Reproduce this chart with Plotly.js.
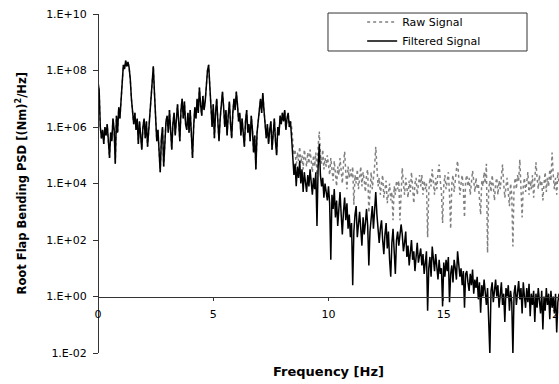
<!DOCTYPE html>
<html><head><meta charset="utf-8">
<script src="https://cdn.plot.ly/plotly-3.0.1.min.js"></script>
<style>html,body{margin:0;padding:0;background:#fff}#chart{width:559px;height:384px}</style>
</head><body><div id="chart"></div>
<script>
// Frequency grid of the spectra (Hz)
const freqStart = 0;
const freqStep = 0.05;

// log10 of PSD, 0.00 - 8.35 Hz (raw and filtered coincide here)
const lowBandExp = [
  7.6, 7.3, 6.0, 5.6, 5.9, 5.4, 6.0, 5.7, 6.1, 5.3, 4.9, 5.8, 5.5, 6.3, 5.9, 4.7, 6.4, 5.8, 6.7, 6.3,
  7.1, 7.9, 8.2, 8.05, 8.35, 8.15, 8.3, 8.1, 7.7, 7.0, 6.5, 6.1, 6.5, 5.9, 6.3, 5.4, 6.2, 5.7, 5.2, 6.0,
  6.3, 5.6, 6.2, 5.3, 5.9, 6.4, 6.9, 7.6, 8.15, 7.2, 6.1, 5.5, 5.9, 4.9, 4.4, 5.6, 6.0, 4.6, 5.5, 6.2,
  6.4, 5.8, 6.6, 6.0, 5.2, 6.1, 6.5, 5.7, 6.3, 6.8, 6.2, 5.5, 6.6, 7.0, 6.3, 6.9, 6.1, 5.9, 6.5, 5.8,
  6.6, 5.9, 4.9, 6.0, 6.7, 6.3, 7.0, 6.5, 7.4, 6.8, 6.4, 7.1, 6.6, 6.9, 7.5, 8.0, 8.2, 7.3, 6.5, 6.0,
  6.8, 5.6, 6.5, 7.0, 6.2, 5.5, 6.3, 6.9, 7.25, 6.7, 6.0, 6.6, 5.7, 6.4, 6.9, 6.1, 5.6, 6.5, 7.0, 6.6,
  7.25, 6.8, 6.2, 6.5, 5.7, 6.3, 5.9, 5.3, 6.2, 6.6, 5.8, 6.1, 5.5, 6.4, 5.9, 5.1, 5.7, 4.5, 5.8, 6.3,
  6.7, 7.0, 6.5, 7.2, 6.6, 6.0, 5.6, 6.1, 5.4, 5.9, 6.2, 5.2, 5.8, 6.3, 5.5, 5.0, 6.0, 5.7, 6.4, 6.1,
  6.5, 6.2, 6.6, 5.9, 6.3, 6.5, 6.0, 6.2
];

// log10 of filtered PSD, 8.40 - 20.00 Hz
const filteredHighExp = [
  5.6, 4.9, 4.3, 4.7, 3.9, 4.6, 4.2, 4.8, 4.0, 4.5, 3.7, 4.4,
  4.1, 3.7, 4.3, 3.9, 4.5, 4.0, 3.6, 4.2, 3.8, 4.4, 2.5, 4.6, 5.4, 4.3, 3.9, 4.2, 3.5, 4.0, 3.7, 3.4,
  3.9, 3.3, 1.3, 3.6, 3.1, 3.8, 2.8, 3.4, 2.5, 3.2, 3.7, 2.9, 2.2, 3.0, 3.5, 2.7, 3.3, 2.4, 2.9, 2.1,
  2.6, 0.4, 2.3, 2.9, 3.2, 2.1, 2.7, 3.0, 2.4, 1.8, 2.8, 2.2, 2.6, 3.1, 2.5, 1.1, 2.3, 2.8, 3.2, 2.4,
  3.1, 3.7, 2.9, 2.5, 1.9, 2.4, 2.7, 2.0, 1.5, 2.2, 2.6, 1.7, 2.3, 1.3, 0.7, 1.9, 2.4, 1.6, 0.8, 2.0,
  2.3, 1.8, 2.1, 2.55, 2.2, 1.6, 1.9, 2.3, 1.4, 1.8, 1.1, 1.7, 2.0, 1.3, 1.6, 0.9, 1.5, 1.9, 1.2, 1.4,
  1.7, 1.1, 1.5, 0.8, 1.3, 1.6, -0.5, 1.0, 1.4, 0.7, 1.77, 1.2, 0.9, 1.5, 1.1, 0.6, 1.3, 0.8, 1.0, -0.35,
  1.2, 0.7, 1.3, 0.9, 1.4, -0.2, 0.8, 1.1, 0.5, 1.3, 1.0, 0.6, 1.6, 1.2, 0.7, 1.0, 0.4, 0.9, -0.4, 0.8,
  0.9, 0.5, 0.2, 0.8, 0.4, 0.95, 0.1, 0.6, 0.3, 0.7, -0.1, 0.5, -0.57, 0.4, 0.0, 0.6, 0.2, -0.3, 0.3, -0.9,
  -2.05, 0.2, 0.5, -0.2, 0.3, 0.6, 0.0, 0.4, -0.4, 0.2, 0.5, -0.3, 0.1, -0.9, 0.3, 0.0, 0.4, -0.5, 0.2, -0.2,
  -2.05, 0.1, 0.4, -0.3, 0.2, 0.55, -0.1, 0.3, -0.6, 0.5, 0.0, -0.4, 0.3, -0.2, 0.45, -0.7, 0.1, -0.3, 0.2, -0.9,
  0.1, -0.4, 0.3, -0.2, -0.6, 0.2, -1.17, 0.0, -0.5, 0.3, -0.3, 0.1, -0.8, 0.2, -0.4, 0.0, -0.6, 0.1, -1.27, -0.2, 0.1
];

// log10 of raw PSD, 8.40 - 20.00 Hz
const rawHighExp = [
  6.0, 5.4, 5.0, 5.2, 4.6, 5.1, 4.8, 5.3, 4.7, 5.0, 4.5, 5.2,
  4.9, 4.6, 5.1, 4.7, 5.2, 4.8, 4.4, 5.0, 4.6, 5.1, 4.3, 5.3, 5.84, 5.0, 4.7, 5.2, 4.5, 4.9, 4.6, 5.0,
  4.7, 4.3, 4.9, 4.5, 4.1, 4.8, 4.4, 3.9, 4.6, 4.3, 4.9, 4.5, 4.0, 4.7, 5.13, 4.4, 3.8, 4.6, 4.2, 4.5,
  4.2, 4.6, 3.25, 4.3, 4.0, 4.5, 3.8, 4.2, 4.6, 3.9, 4.4, 4.1, 3.7, 4.3, 4.5, 2.97, 4.0, 4.4, 3.8, 4.2,
  4.6, 5.3, 4.4, 3.9, 4.2, 3.6, 4.0, 4.3, 3.5, 3.9, 4.1, 3.3, 3.8, 4.0, 3.4, 3.7, 2.7, 3.9, 3.6, 4.1,
  3.8, 4.1, 2.7, 3.9, 4.55, 4.0, 3.6, 4.2, 3.8, 3.5, 4.1, 3.7, 4.4, 3.9, 3.3, 4.0, 4.2, 3.6, 3.9, 4.3,
  3.9, 4.3, 3.6, 4.1, 3.8, 4.0, 2.1, 3.7, 4.2, 3.9, 4.5, 4.0, 3.6, 4.2, 3.8, 4.4, 4.67, 4.1, 3.7, 2.6,
  3.9, 4.3, 3.8, 4.1, 4.4, 3.6, 2.4, 4.0, 4.3, 3.7, 4.2, 4.5, 4.8, 4.1, 3.6, 4.0, 4.3, 3.8, 2.8, 4.1,
  4.3, 3.9, 4.2, 3.6, 4.0, 4.45, 4.1, 3.7, 4.2, 3.8, 4.0, 3.5, 2.9, 4.1, 3.9, 4.4, 4.0, 4.7, 1.55, 3.8,
  4.1, 3.7, 4.3, 3.9, 3.4, 4.0, 4.2, 3.6, 4.1, 3.8, 4.3, 4.67, 4.0, 3.5, 3.9, 4.2, 3.7, 3.2, 4.0, 3.6,
  1.77, 3.9, 4.2, 3.8, 4.3, 4.1, 4.85, 4.0, 2.8, 3.9, 4.2, 3.7, 4.0, 4.4, 3.6, 4.1, 3.8, 4.3, 3.5, 4.0,
  4.75, 4.2, 3.8, 4.3, 3.9, 4.1, 3.4, 4.0, 4.4, 3.7, 4.2, 3.9, 4.5, 4.1, 5.1, 4.3, 3.8, 4.2, 3.6, 4.4, 4.0
];

const seriesNames = ['Raw Signal', 'Filtered Signal'];
const xTickVals = [0, 5, 10, 15, 20];
const yTickVals = [1e-2, 1e0, 1e2, 1e4, 1e6, 1e8, 1e10];
const yTickText = ['1.E-02', '1.E+00', '1.E+02', '1.E+04', '1.E+06', '1.E+08', '1.E+10'];

const toPSD = e => Math.pow(10, e);
const rawY = lowBandExp.concat(rawHighExp).map(toPSD);
const filtY = lowBandExp.concat(filteredHighExp).map(toPSD);

const tickFont = {family: 'DejaVu Sans', size: 11, color: '#000'};
const axisColor = '#333';
const xPos = 2 / 12; // x axis crosses y axis at 1.E+00

const traces = [
  {type: 'scatter', mode: 'lines', name: seriesNames[0], x0: freqStart, dx: freqStep, y: rawY,
   line: {color: '#808080', width: 1.5, dash: 'dot'}},
  {type: 'scatter', mode: 'lines', name: seriesNames[1], x0: freqStart, dx: freqStep, y: filtY,
   line: {color: '#000000', width: 1.5}}
];

const layout = {
  width: 559, height: 384,
  margin: {l: 98, r: 0, t: 14, b: 31, pad: 0},
  paper_bgcolor: '#fff', plot_bgcolor: '#fff',
  showlegend: true,
  legend: {x: 0.573, y: 1.019, xanchor: 'left', yanchor: 'top', bgcolor: 'rgba(0,0,0,0)',
           borderwidth: 0, font: {family: 'DejaVu Sans', size: 11, color: '#000'}, tracegroupgap: 0},
  xaxis: {range: [0, 20], anchor: 'free', position: xPos, showline: true, linecolor: axisColor, linewidth: 1,
          ticks: 'outside', ticklen: 3, tickcolor: axisColor, tickvals: xTickVals, showgrid: false,
          zeroline: false, tickfont: tickFont, ticklabelstandoff: 4, ticklabeloverflow: 'allow',
          fixedrange: true},
  xaxis2: {range: [0, 20], overlaying: 'x', anchor: 'free', position: xPos, showline: false,
           ticks: 'inside', ticklen: 3, tickcolor: axisColor, tickvals: xTickVals, showticklabels: false,
           showgrid: false, zeroline: false},
  yaxis: {type: 'log', range: [-2, 10], anchor: 'free', position: 0, showline: true, linecolor: axisColor,
          linewidth: 1, ticks: 'outside', ticklen: 5, tickcolor: axisColor, tickvals: yTickVals,
          ticktext: yTickText, showgrid: false, zeroline: false, tickfont: tickFont, ticklabelstandoff: 4},
  yaxis2: {type: 'log', range: [-2, 10], overlaying: 'y', anchor: 'free', position: 0, side: 'left',
           showline: false, ticks: 'inside', ticklen: 5, tickcolor: axisColor, tickvals: yTickVals,
           showticklabels: false, showgrid: false, zeroline: false},
  annotations: [
    {text: '<b>Frequency [Hz]</b>', xref: 'paper', yref: 'paper', x: 0.5, y: -0.056,
     xanchor: 'center', yanchor: 'middle', showarrow: false,
     font: {family: 'DejaVu Sans', size: 13, color: '#000'}},
    {text: '<b>Root Flap Bending PSD [(Nm)<sup>2</sup>/Hz]</b>', xref: 'paper', yref: 'paper',
     x: -0.164, y: 0.5015, xanchor: 'center', yanchor: 'middle', textangle: -90, showarrow: false,
     font: {family: 'DejaVu Sans', size: 11.5, color: '#000'}}
  ],
  shapes: [
    {type: 'rect', xref: 'paper', yref: 'paper', x0: 0.4989, x1: 0.9306, y0: 0.8909, y1: 1.0029,
     line: {color: '#333', width: 1}, fillcolor: 'rgba(0,0,0,0)'}
  ]
};

Plotly.newPlot('chart', traces, layout, {staticPlot: true, displayModeBar: false});
</script>
</body></html>
